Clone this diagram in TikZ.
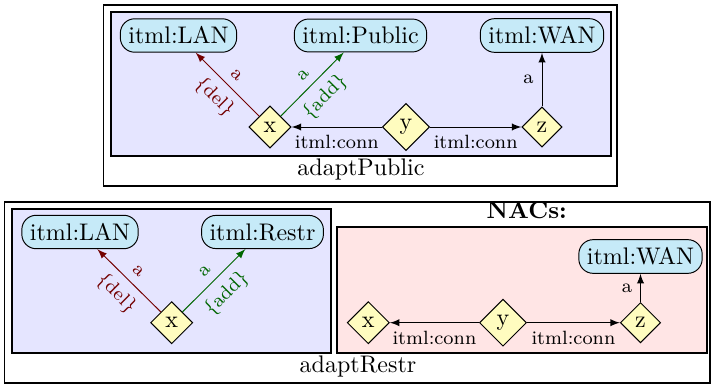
\documentclass[tikz,border=0pt]{standalone}
\usetikzlibrary{shapes.geometric}
\definecolor{typeblue}{RGB}{198,234,248}

\begin{document}
\begin{tikzpicture}[x=0.4167pt, y=-0.4167pt,
      type/.style = {shape=rectangle, rounded corners=6pt, draw, fill=typeblue},
      elem/.style = {shape=diamond, draw, fill=yellow!25, inner sep=2pt},
      frame/.style = {draw, line width=0.8pt},
      lhs/.style = {frame, fill=blue!10},
      nac/.style = {frame, fill=red!10},
      link/.style = {-latex},
      lbl/.style = {font=\footnotesize},
      deledge/.style = {link, draw=red!45!black, text=red!45!black},
      addedge/.style = {link, draw=green!40!black, text=green!40!black}]
  \useasboundingbox (0,0) rectangle (711,385);

  % rule adaptPublic
  \draw[frame] (103.5,5) rectangle (617,186);
  \draw[lhs] (111,12) rectangle (611,156);
  \node (pubname) at (361,170) {adaptPublic};
  \node[type] (lan) at (178.5,35.5) {itml:LAN};
  \node[type] (public) at (360.5,35.5) {itml:Public};
  \node[type] (wan) at (542,35.5) {itml:WAN};
  \node[elem] (x) at (270,127) {x};
  \node[elem] (y) at (406,127) {y};
  \node[elem] (z) at (542,127) {z};
  \draw[deledge] (x) -- node[lbl, above, sloped] {a} node[lbl, below, sloped] {\{del\}} (lan);
  \draw[addedge] (x) -- node[lbl, above, sloped] {a} node[lbl, below, sloped] {\{add\}} (public);
  \draw[link] (y) -- node[lbl, below] {itml:conn} (x);
  \draw[link] (y) -- node[lbl, below] {itml:conn} (z);
  \draw[link] (z) -- node[lbl, left] {a} (wan);

  % rule adaptRestr
  \draw[frame] (4.5,202) rectangle (710,383);
  \draw[lhs] (12,209) rectangle (331,353);
  \node (restrname) at (358,366) {adaptRestr};
  \node[type] (lan2) at (80,232) {itml:LAN};
  \node[type] (restr) at (262.5,232) {itml:Restr};
  \node[elem] (x2) at (171.7,322.7) {x};
  \draw[deledge] (x2) -- node[lbl, above, sloped] {a} node[lbl, below, sloped] {\{del\}} (lan2);
  \draw[addedge] (x2) -- node[lbl, above, sloped] {a} node[lbl, below, sloped] {\{add\}} (restr);

  % NAC
  \node (nacs) at (526.7,210) {\textbf{NACs:}};
  \draw[nac] (337,227) rectangle (707,353);
  \node[type] (wan3) at (640.5,256.5) {itml:WAN};
  \node[elem] (x3) at (368.3,322.7) {x};
  \node[elem] (y3) at (503,322.7) {y};
  \node[elem] (z3) at (640.5,322.7) {z};
  \draw[link] (y3) -- node[lbl, below] {itml:conn} (x3);
  \draw[link] (y3) -- node[lbl, below] {itml:conn} (z3);
  \draw[link] (z3) -- node[lbl, left] {a} (wan3);
\end{tikzpicture}
\end{document}
